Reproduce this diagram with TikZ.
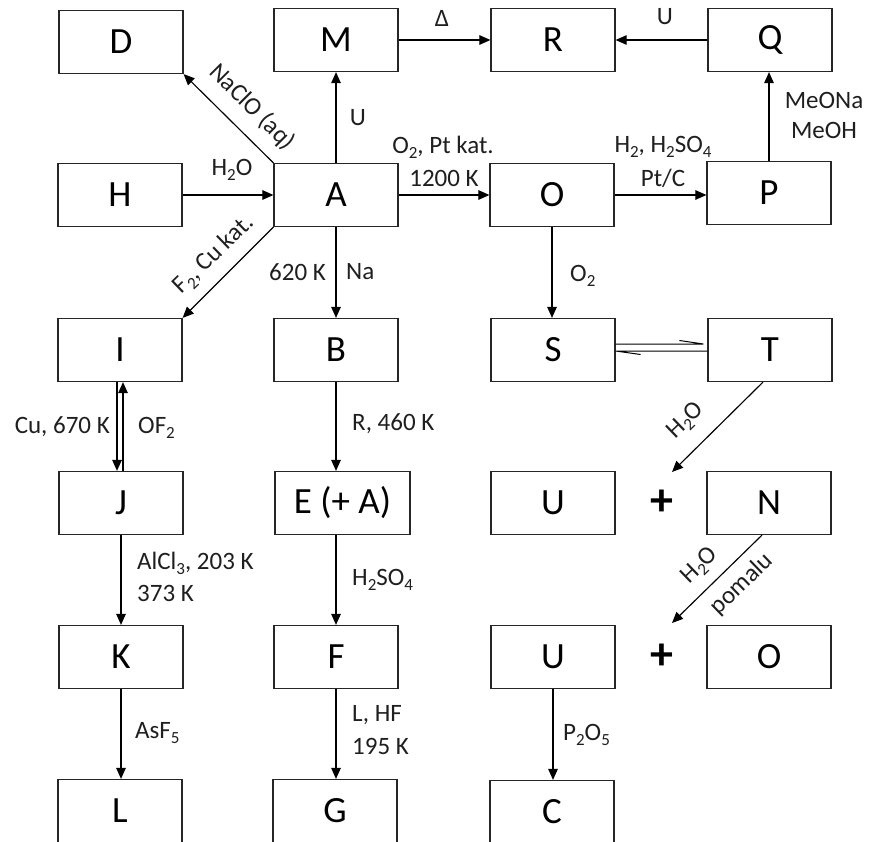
\documentclass[tikz,border=0pt]{standalone}
\usepackage{fontspec}
\setmainfont{Carlito}
\usetikzlibrary{arrows.meta}
\newcommand{\sbx}[1]{\raisebox{-0.2em}{\fontsize{17}{17}\selectfont #1}}
\tikzset{
  box/.style={draw, line width=1.2pt, draw=black!85, rectangle, minimum width=124pt, minimum height=63pt, inner sep=0pt, font=\fontsize{37}{40}\selectfont},
  lbl/.style={inner sep=0pt, text=black!88, font=\fontsize{25}{28}\selectfont},
  conn/.style={line width=1.15pt, -{Triangle[length=11pt,width=9.5pt]}},
  plain/.style={line width=1pt},
  plussign/.style={inner sep=0pt, font=\fontsize{46}{48}\selectfont\bfseries}
}
\begin{document}
\begin{tikzpicture}[x=1pt,y=-1pt]
\useasboundingbox[fill=white] (0,0) rectangle (869,842);
% boxes
\node[box] (D) at (121,42) {D};
\node[box] (M) at (336,40) {M};
\node[box] (R) at (553,40) {R};
\node[box] (Q) at (770,40) {Q};
\node[box] (H) at (120,195) {H};
\node[box] (A) at (336,195) {A};
\node[box] (O) at (552,195) {O};
\node[box] (P) at (769,193) {P};
\node[box] (I) at (120,350) {I};
\node[box] (B) at (336,350) {B};
\node[box] (S) at (553,350) {S};
\node[box] (T) at (770,350) {T};
\node[box] (J) at (121,503) {J};
\node[box, minimum width=135pt] (E) at (342.5,503) {E (+ A)};
\node[box] (U1) at (553,503) {U};
\node[box] (N) at (769,503) {N};
\node[box] (K) at (121,657) {K};
\node[box] (F) at (336,657) {F};
\node[box] (U2) at (553,657) {U};
\node[box] (O2) at (769,657) {O};
\node[box] (L) at (120,811) {L};
\node[box] (G) at (335,811) {G};
\node[box] (C) at (552,812) {C};
\node[plussign] (plus1) at (662,503) {+};
\node[plussign] (plus2) at (662,657) {+};
% connectors
\draw[conn] (M.east) -- (R.west);
\draw[conn] (Q.west) -- (R.east);
\draw[conn] (A.north) -- (M.south);
\draw[conn] (A.north west) -- (D.south east);
\draw[conn] (H.east) -- (A.west);
\draw[conn] (A.east) -- (O.west);
\draw[conn] (O.east) -- (O.east -| P.west);
\draw[conn] (P.north) -- (P.north |- Q.south);
\draw[conn] (A.south) -- (B.north);
\draw[conn] (A.south west) -- (I.north east);
\draw[conn] (O.south) -- (O.south |- S.north);
\draw[conn] ([xshift=-3pt]I.south) -- ([xshift=-3pt]I.south |- J.north);
\draw[conn] ([xshift=3pt]I.south |- J.north) -- ([xshift=3pt]I.south);
\draw[conn] (B.south) -- (B.south |- E.north);
\draw[conn] (J.south) -- (J.south |- K.north);
\draw[conn] (F.north |- E.south) -- (F.north);
\draw[conn] (K.south) -- (K.south |- L.north);
\draw[conn] (F.south) -- (F.south |- G.north);
\draw[conn] (U2.south) -- (U2.south |- C.north);
\coordinate (tip1) at (672,472);
\coordinate (tip2) at (672,623);
\draw[conn] ([xshift=-7pt]T.south) -- (tip1);
\draw[conn] ([xshift=-7pt]N.south) -- (tip2);
% equilibrium S <=> T
\draw[plain] ([yshift=6pt]S.east) -- ([yshift=6pt,xshift=-4pt]T.west) -- ++(-24pt,3.5pt);
\draw[plain] ([xshift=25pt,yshift=-4.5pt]S.east) -- ([yshift=-1pt]S.east) -- ([yshift=-1pt]T.west);
% labels
\node[lbl] (l1) at (442,18) {Δ};
\node[lbl] (l2) at (665,17) {U};
\node[lbl] (l3) at (358,118) {U};
\node[lbl, rotate=-45] (l4) at (252,107) {NaClO (aq)};
\node[lbl] (l5) at (232,170) {H\sbx{2}O};
\node[lbl] (l6) at (443,147) {O\sbx{2}, Pt kat.};
\node[lbl] (l7) at (444,178) {1200 K};
\node[lbl] (l8) at (663,147) {H\sbx{2}, H\sbx{2}SO\sbx{4}};
\node[lbl] (l9) at (663,178) {Pt/C};
\node[lbl] (l10) at (824,100) {MeONa};
\node[lbl] (l11) at (824,130) {MeOH};
\node[lbl, anchor=east] (l12) at (326,272) {620 K};
\node[lbl, anchor=west] (l13) at (346,272) {Na};
\node[lbl, rotate=44] (l14) at (214,255) {F\sbx{2}, Cu kat.};
\node[lbl, anchor=west] (l15) at (570,276) {O\sbx{2}};
\node[lbl, anchor=east] (l16) at (110,427) {Cu, 670 K};
\node[lbl, anchor=west] (l17) at (138,428) {OF\sbx{2}};
\node[lbl, anchor=west] (l18) at (352,424) {R, 460 K};
\node[lbl, anchor=west] (l19) at (137,563) {AlCl\sbx{3}, 203 K};
\node[lbl, anchor=west] (l20) at (137,593) {373 K};
\node[lbl, anchor=west] (l21) at (352,580) {H\sbx{2}SO\sbx{4}};
\node[lbl, anchor=west] (l22) at (135,733) {AsF\sbx{5}};
\node[lbl, anchor=west] (l23) at (352,715) {L, HF};
\node[lbl, anchor=west] (l24) at (352,746) {195 K};
\node[lbl, anchor=west] (l25) at (563,735) {P\sbx{2}O\sbx{5}};
\node[lbl, rotate=44] (l26) at (686,421) {H\sbx{2}O};
\node[lbl, rotate=44] (l27) at (700,566) {H\sbx{2}O};
\node[lbl, rotate=44] (l28) at (742,584) {pomalu};
\end{tikzpicture}
\end{document}
